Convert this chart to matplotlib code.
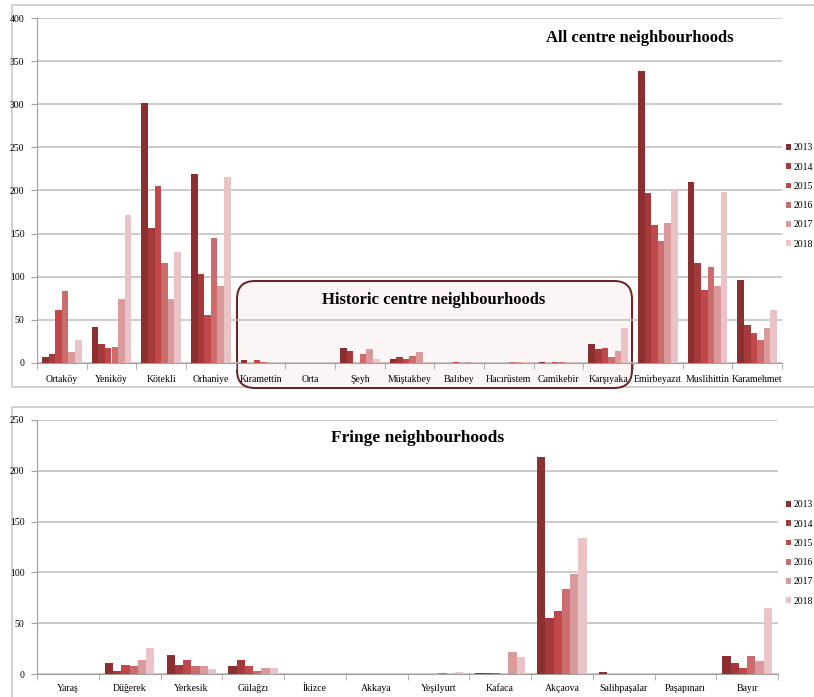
"""Building permits by neighbourhood, 2013-2018: centre and fringe panels."""
import matplotlib
matplotlib.use("Agg")
import matplotlib.pyplot as plt  # noqa: E402
import numpy as np  # noqa: E402
from matplotlib.patches import FancyBboxPatch, Rectangle  # noqa: E402

YEARS = ["2013", "2014", "2015", "2016", "2017", "2018"]
COLORS = ["#8c2f31", "#a53a3b", "#c0474a", "#cb6c6d", "#da9a9c", "#e9c3c5"]

CENTRE = ["Ortaköy", "Yeniköy", "Kötekli", "Orhaniye", "Kıramettin", "Orta",
          "Şeyh", "Müştakbey", "Balıbey", "Hacırüstem", "Camikebir",
          "Karşıyaka", "Emirbeyazıt", "Muslihittin", "Karamehmet"]
CENTRE_2013 = [7, 42, 302, 219, 3, 0, 17, 5, 0, 0, 1, 22, 338, 210, 96]
CENTRE_2014 = [11, 22, 156, 103, 0, 0, 14, 7, 0, 0, 0, 16, 197, 116, 44]
CENTRE_2015 = [62, 17, 205, 56, 3, 0, 0, 5, 1, 0, 1, 17, 160, 85, 35]
CENTRE_2016 = [83, 18, 116, 145, 1, 0, 11, 8, 0, 1, 1, 7, 142, 111, 27]
CENTRE_2017 = [13, 74, 74, 89, 0, 0, 16, 13, 1, 1, 0, 14, 162, 89, 40]
CENTRE_2018 = [27, 172, 129, 216, 0, 0, 5, 1, 0, 1, 1, 40, 200, 198, 62]

FRINGE = ["Yaraş", "Düğerek", "Yerkesik", "Gülağzı", "İkizce", "Akkaya",
          "Yeşilyurt", "Kafaca", "Akçaova", "Salihpaşalar", "Paşapınarı", "Bayır"]
FRINGE_2013 = [0, 11, 19, 8, 0, 0, 0, 1, 214, 2, 0, 18]
FRINGE_2014 = [0, 3, 9, 14, 0, 0, 0, 1, 55, 0, 0, 11]
FRINGE_2015 = [0, 9, 14, 8, 0, 0, 0, 1, 62, 0, 0, 6]
FRINGE_2016 = [0, 8, 8, 3, 0, 0, 1, 0, 84, 0, 0, 18]
FRINGE_2017 = [0, 14, 8, 6, 0, 0, 0, 22, 98, 0, 0, 13]
FRINGE_2018 = [0, 26, 5, 6, 0, 0, 2, 17, 134, 1, 0, 65]

W, H = 814, 697
plt.rcParams["font.family"] = ["Liberation Serif", "DejaVu Serif"]


def fbox(x0, y0, x1, y1):
    """pixel box (top-left origin) -> figure fraction [l, b, w, h]"""
    return [x0 / W, 1 - y1 / H, (x1 - x0) / W, (y1 - y0) / H]


def grouped(ax, cats, series, ymax, step, pad):
    x = np.arange(len(cats))
    bw = 0.8 / len(series)
    bars = []
    for k, (vals, col) in enumerate(zip(series, COLORS)):
        off = (k - (len(series) - 1) / 2) * bw
        bars.append(ax.bar(x + off, vals, bw, color=col, linewidth=0, zorder=3))
    ax.set_xlim(-0.5, len(cats) - 0.5)
    ax.set_ylim(0, ymax)
    ax.set_yticks(np.arange(0, ymax + 1, step))
    ax.set_xticks(x)
    ax.set_xticklabels(cats)
    ax.set_xticks(np.arange(-0.5, len(cats), 1), minor=True)
    ax.tick_params(axis="x", which="major", length=0, pad=pad, labelsize=7)
    ax.tick_params(axis="x", which="minor", length=4, color="#a0a0a0")
    ax.tick_params(axis="y", length=4, color="#a0a0a0", labelsize=7, pad=5)
    ax.yaxis.grid(True, color="#bdbdbd", lw=1.1, zorder=0)
    ax.set_axisbelow(True)
    ax.set_facecolor("none")
    for s in ("top", "right"):
        ax.spines[s].set_visible(False)
    for s in ("left", "bottom"):
        ax.spines[s].set_color("#a0a0a0")
    return bars


fig = plt.figure(figsize=(W / 100, H / 100), dpi=100)

# panel frames
for x0, y0, x1, y1 in [(12, 5, 830, 387), (12, 407, 830, 720)]:
    l, b, w, h = fbox(x0, y0, x1, y1)
    fig.patches.append(Rectangle((l, b), w, h, transform=fig.transFigure,
                                 fill=False, ec="#c8c8c8", lw=1.2, zorder=-2))

# historic centre box
l, b, w, h = fbox(237, 281, 632, 388)
fig.patches.append(FancyBboxPatch((l, b), w, h, transform=fig.transFigure,
                                  boxstyle="round,pad=0,rounding_size=0.022",
                                  fc="#fcf5f5", ec="#6a1e20", lw=1.4,
                                  zorder=-1, mutation_aspect=W / H))

ax1 = fig.add_axes(fbox(37, 18, 782, 363))
bars = grouped(ax1, CENTRE, [CENTRE_2013, CENTRE_2014, CENTRE_2015,
                             CENTRE_2016, CENTRE_2017, CENTRE_2018], 400, 50, 9)

ax2 = fig.add_axes(fbox(37, 420, 778, 674))
grouped(ax2, FRINGE, [FRINGE_2013, FRINGE_2014, FRINGE_2015,
                      FRINGE_2016, FRINGE_2017, FRINGE_2018], 250, 50, 7)

for ax, (ly0, ly1) in [(ax1, (152, 240)), (ax2, (508, 598))]:
    ax.legend([b_[0] for b_ in bars], YEARS, loc="center left",
              bbox_to_anchor=(786 / W, 1 - (ly0 + ly1) / 2 / H),
              bbox_transform=fig.transFigure, frameon=False, fontsize=7,
              handlelength=0.55, handleheight=0.55, handletextpad=0.25,
              labelspacing=1.05, borderpad=0, borderaxespad=0)

fig.text(640 / W, 1 - 38 / H, "All centre neighbourhoods", ha="center",
         va="center", fontsize=12, fontweight="bold")
fig.text(434 / W, 1 - 300 / H, "Historic centre neighbourhoods", ha="center",
         va="center", fontsize=12, fontweight="bold")
fig.text(418 / W, 1 - 438 / H, "Fringe neighbourhoods", ha="center",
         va="center", fontsize=12.5, fontweight="bold")

fig.savefig("out.png", dpi=100)
